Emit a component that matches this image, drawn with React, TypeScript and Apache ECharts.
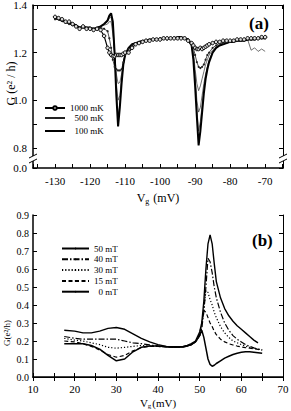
import React, { useEffect, useRef } from 'react';
import * as echarts from 'echarts';

// ---------- Panel (a): G vs Vg at several temperatures ----------
const XA = [
  -130, -129, -128, -127, -126, -125, -124, -123, -122, -121,
  -120, -119, -118, -117, -116, -115, -114.5, -114, -113.5, -113,
  -112.5, -112, -111.5, -111, -110.5, -110, -109, -108, -107, -106,
  -105, -104, -103, -102, -101, -100, -99, -98, -97, -96,
  -95, -94, -93, -92, -91, -90.5, -90, -89.5, -89, -88.5,
  -88, -87.5, -87, -86.5, -86, -85, -84, -83, -82, -81,
  -80, -79, -78, -77, -76, -75, -74, -73, -72, -71,
  -70,
];
const T1000 = [
  1.35, 1.345, 1.34, 1.33, 1.33, 1.32, 1.31, 1.3, 1.31, 1.3,
  1.3, 1.295, 1.3, 1.295, 1.27, 1.22, 1.2, 1.19, 1.185, 1.185,
  1.19, 1.19, 1.19, 1.19, 1.195, 1.2, 1.2, 1.22, 1.235, 1.24,
  1.245, 1.25, 1.25, 1.255, 1.255, 1.255, 1.26, 1.26, 1.26, 1.26,
  1.26, 1.26, 1.26, 1.25, 1.24, 1.23, 1.22, 1.215, 1.215, 1.22,
  1.215, 1.22, 1.225, 1.23, 1.235, 1.24, 1.245, 1.245, 1.25, 1.25,
  1.25, 1.25, 1.255, 1.255, 1.255, 1.26, 1.26, 1.26, 1.26, 1.265,
  1.265,
];
const T500 = [
  1.34, 1.34, 1.335, 1.325, 1.32, 1.315, 1.31, 1.3, 1.305, 1.3,
  1.3, 1.3, 1.3, 1.305, 1.3, 1.29, 1.26, 1.22, 1.17, 1.14,
  1.13, 1.125, 1.125, 1.13, 1.16, 1.19, 1.215, 1.23, 1.24, 1.245,
  1.245, 1.25, 1.25, 1.255, 1.255, 1.26, 1.26, 1.255, 1.26, 1.26,
  1.26, 1.26, 1.26, 1.255, 1.24, 1.22, 1.19, 1.16, 1.14, 1.135,
  1.14, 1.15, 1.17, 1.19, 1.2, 1.22, 1.23, 1.24, 1.24, 1.245,
  1.245, 1.25, 1.25, 1.25, 1.255, 1.255, 1.255, 1.26, 1.26, 1.26,
  1.26,
];
const TMID1 = [
  1.345, 1.34, 1.33, 1.33, 1.32, 1.315, 1.31, 1.305, 1.305, 1.3,
  1.3, 1.3, 1.3, 1.31, 1.315, 1.32, 1.33, 1.33, 1.28, 1.2,
  1.11, 1.07, 1.075, 1.11, 1.16, 1.19, 1.215, 1.23, 1.24, 1.245,
  1.25, 1.25, 1.25, 1.255, 1.255, 1.255, 1.26, 1.26, 1.26, 1.26,
  1.26, 1.26, 1.26, 1.255, 1.235, 1.2, 1.13, 1.07, 1.04, 1.06,
  1.09, 1.12, 1.15, 1.17, 1.19, 1.21, 1.225, 1.235, 1.24, 1.24,
  1.245, 1.25, 1.25, 1.25, 1.25, 1.255, 1.255, 1.26, 1.26, 1.26,
  1.26,
];
const TMID2 = [
  1.35, 1.34, 1.335, 1.33, 1.325, 1.32, 1.31, 1.305, 1.31, 1.305,
  1.3, 1.3, 1.305, 1.31, 1.32, 1.33, 1.345, 1.35, 1.3, 1.2,
  1.07, 1.0, 1.02, 1.09, 1.15, 1.19, 1.22, 1.235, 1.24, 1.245,
  1.25, 1.25, 1.255, 1.255, 1.255, 1.26, 1.26, 1.26, 1.26, 1.26,
  1.265, 1.26, 1.26, 1.255, 1.23, 1.19, 1.1, 1.0, 0.95, 0.97,
  1.02, 1.07, 1.11, 1.14, 1.17, 1.2, 1.22, 1.23, 1.235, 1.24,
  1.245, 1.245, 1.25, 1.25, 1.255, 1.255, 1.255, 1.26, 1.26, 1.26,
  1.26,
];
const TMID3 = [
  1.345, 1.34, 1.33, 1.33, 1.32, 1.32, 1.31, 1.3, 1.305, 1.3,
  1.3, 1.3, 1.305, 1.31, 1.32, 1.335, 1.35, 1.36, 1.32, 1.2,
  1.04, 0.93, 0.99, 1.08, 1.15, 1.19, 1.22, 1.235, 1.24, 1.245,
  1.25, 1.25, 1.255, 1.255, 1.255, 1.26, 1.26, 1.26, 1.26, 1.26,
  1.265, 1.265, 1.26, 1.255, 1.23, 1.18, 1.08, 0.96, 0.87, 0.91,
  0.98, 1.05, 1.1, 1.14, 1.165, 1.2, 1.22, 1.23, 1.235, 1.24,
  1.245, 1.245, 1.25, 1.25, 1.25, 1.255, 1.21, 1.22, 1.205, 1.215,
  1.205,
];
const T100 = [
  1.345, 1.34, 1.335, 1.33, 1.325, 1.32, 1.315, 1.305, 1.31, 1.305,
  1.305, 1.3, 1.305, 1.31, 1.32, 1.335, 1.355, 1.365, 1.33, 1.2,
  1.02, 0.89, 0.97, 1.07, 1.15, 1.19, 1.22, 1.235, 1.24, 1.245,
  1.25, 1.25, 1.255, 1.255, 1.255, 1.255, 1.26, 1.26, 1.26, 1.26,
  1.265, 1.265, 1.26, 1.255, 1.23, 1.17, 1.06, 0.93, 0.81, 0.87,
  0.95, 1.03, 1.09, 1.13, 1.16, 1.2, 1.22, 1.23, 1.235, 1.24,
  1.245, 1.245, 1.25, 1.25, 1.25, 1.255, 1.255, 1.255, 1.26, 1.26,
  1.26,
];
const A_LEGEND_TOP = ['1000 mK'];
const A_LEGEND_REST = ['500 mK', '100 mK'];

// ---------- Panel (b): G vs Vg at several magnetic fields ----------
const XB = [
  17.5, 20, 22, 24, 26, 28, 30, 32, 34, 36,
  38, 40, 42, 44, 46, 47, 48, 49, 50, 50.5,
  51, 51.5, 52, 52.5, 53, 53.5, 54, 55, 56, 57,
  58, 59, 60, 61, 62, 63, 64, 65,
];
const B50 = [
  0.26, 0.255, 0.245, 0.245, 0.255, 0.27, 0.275, 0.265, 0.24, 0.215,
  0.195, 0.18, 0.17, 0.168, 0.17, 0.175, 0.185, 0.2, 0.25, 0.3,
  0.42, 0.6, 0.74, 0.79, 0.74, 0.63, 0.53, 0.44, 0.38, 0.34,
  0.31, 0.285, 0.265, 0.245, 0.225, 0.205, 0.19, null,
];
const B40 = [
  0.225, 0.215, 0.21, 0.21, 0.21, 0.21, 0.21, 0.2, 0.19, 0.185,
  0.178, 0.172, 0.168, 0.166, 0.168, 0.172, 0.18, 0.195, 0.23, 0.27,
  0.36, 0.5, 0.66, 0.64, 0.58, 0.5, 0.44, 0.36, 0.3, 0.26,
  0.23, 0.21, 0.195, 0.18, 0.17, 0.162, 0.155, 0.15,
];
const B30 = [
  0.215, 0.205, 0.2, 0.19, 0.18, 0.165, 0.16, 0.165, 0.17, 0.175,
  0.172, 0.17, 0.167, 0.165, 0.167, 0.172, 0.18, 0.195, 0.23, 0.28,
  0.38, 0.48, 0.47, 0.43, 0.4, 0.36, 0.33, 0.28, 0.245, 0.22,
  0.2, 0.19, 0.18, 0.172, 0.165, 0.16, 0.155, 0.15,
];
const B15 = [
  0.2, 0.195, 0.185, 0.17, 0.15, 0.125, 0.11, 0.12, 0.145, 0.165,
  0.17, 0.17, 0.167, 0.165, 0.167, 0.172, 0.18, 0.195, 0.24, 0.3,
  0.37, 0.36, 0.33, 0.3, 0.28, 0.255, 0.235, 0.21, 0.195, 0.185,
  0.178, 0.172, 0.167, 0.163, 0.16, 0.157, 0.153, 0.15,
];
const B0 = [
  0.185, 0.185, 0.185, 0.175, 0.155, 0.12, 0.09, 0.1, 0.14, 0.165,
  0.172, 0.172, 0.168, 0.165, 0.167, 0.172, 0.18, 0.195, 0.23, 0.26,
  0.22, 0.16, 0.1, 0.07, 0.06, 0.065, 0.075, 0.09, 0.105, 0.115,
  0.125, 0.132, 0.137, 0.14, 0.14, 0.138, 0.135, 0.132,
];
const B_LEGEND = ['50 mT', '40 mT', '30 mT', '15 mT', '0 mT'];

const FONT = '"Liberation Serif", "Times New Roman", serif';

function pairs(xs: number[], ys: (number | null)[]) {
  const out: number[][] = [];
  xs.forEach((x, i) => {
    const y = ys[i];
    if (y !== null && y !== undefined) out.push([x, y]);
  });
  return out;
}

export default function App() {
  const ref = useRef<HTMLDivElement>(null);
  useEffect(() => {
    if (!ref.current) return;
    const chart = echarts.init(ref.current, undefined, { renderer: 'svg' });

    const tick = { inside: true, length: 4, lineStyle: { color: '#000', width: 1 } };
    const label = (extra: any) => ({ fontFamily: FONT, fontSize: 11, color: '#000', ...extra });
    const lineA = (w: number) => ({ lineStyle: { color: '#000', width: w } });

    const thin = (name: string, ys: number[], w = 0.7, color = '#333') => ({
      name, type: 'line', xAxisIndex: 0, yAxisIndex: 0, data: pairs(XA, ys),
      symbol: 'none', lineStyle: { color, width: w }, itemStyle: { color }, silent: true,
    });
    const bser = (name: string, ys: (number | null)[], type: any, w = 1.2) => ({
      name, type: 'line', xAxisIndex: 2, yAxisIndex: 2, data: pairs(XB, ys),
      symbol: 'none', lineStyle: { color: '#000', width: w, type }, itemStyle: { color: '#000' },
    });
    const legendText = { fontFamily: FONT, fontSize: 9, color: '#000' };

    const option: any = {
      animation: false,
      backgroundColor: '#fff',
      textStyle: { fontFamily: FONT },
      grid: [
        { left: 33, top: 5, width: 250, height: 163, outerBoundsMode: 'none', containLabel: false },
        { left: 33, top: 215, width: 250, height: 162, outerBoundsMode: 'none', containLabel: false },
      ],
      xAxis: [
        {
          gridIndex: 0, type: 'value', min: -136.3, max: -64.9, splitNumber: 14, position: 'bottom',
          axisLine: lineA(1.5), axisTick: tick, splitLine: { show: false },
          axisLabel: label({ margin: 7, formatter: (v: number) => (Math.round(v) === v && v % 10 === 0 ? String(v) : '') }),
          name: '{v|V}{g|g}{v| (mV)}', nameLocation: 'middle', nameGap: 22,
          nameTextStyle: {
            rich: {
              v: { fontFamily: FONT, fontSize: 12, color: '#000' },
              g: { fontFamily: FONT, fontSize: 8, color: '#000', padding: [7, 1, 0, 0] },
            },
          },
        },
        {
          gridIndex: 0, type: 'value', min: -136.3, max: -64.9, splitNumber: 14, position: 'top',
          axisLine: lineA(1), axisTick: tick, axisLabel: { show: false }, splitLine: { show: false },
        },
        {
          gridIndex: 1, type: 'value', min: 10, max: 70, interval: 5, position: 'bottom',
          axisLine: lineA(1.5), axisTick: tick, splitLine: { show: false },
          axisLabel: label({ margin: 6, formatter: (v: number) => (Math.round(v) % 10 === 0 ? String(v) : '') }),
          name: '{v|V}{g|g}{v|(mV)}', nameLocation: 'middle', nameGap: 19,
          nameTextStyle: {
            rich: {
              v: { fontFamily: FONT, fontSize: 11, color: '#000' },
              g: { fontFamily: FONT, fontSize: 7, color: '#000', padding: [6, 1, 0, 0] },
            },
          },
        },
        {
          gridIndex: 1, type: 'value', min: 10, max: 70, interval: 5, position: 'top',
          axisLine: lineA(1), axisTick: tick, axisLabel: { show: false }, splitLine: { show: false },
        },
      ],
      yAxis: [
        {
          gridIndex: 0, type: 'value', min: 0.715, max: 1.4, splitNumber: 7, position: 'left',
          axisLine: lineA(1.5), axisTick: tick, splitLine: { show: false },
          axisLabel: label({
            margin: 6, showMinLabel: true,
            formatter: (v: number) => (v < 0.75 ? '0.0' : Math.round(v * 10) % 2 === 0 ? v.toFixed(1) : ''),
          }),
          name: 'G (e² / h)', nameLocation: 'middle', nameGap: 16, nameRotate: 90, nameMoveOverlap: false,
          nameTextStyle: { fontFamily: FONT, fontSize: 12, color: '#000', padding: [0, 0, 0, 6] },
        },
        {
          gridIndex: 0, type: 'value', min: 0.715, max: 1.4, splitNumber: 7, position: 'right',
          axisLine: lineA(1), axisTick: tick, axisLabel: { show: false }, splitLine: { show: false },
        },
        {
          gridIndex: 1, type: 'value', min: 0, max: 0.9, interval: 0.1, position: 'left',
          axisLine: lineA(1.5), axisTick: tick, splitLine: { show: false },
          axisLabel: label({ margin: 4, fontSize: 10, formatter: (v: number) => v.toFixed(1) }),
        },
        {
          gridIndex: 1, type: 'value', min: 0, max: 0.9, interval: 0.1, position: 'right',
          axisLine: lineA(1), axisTick: tick, axisLabel: { show: false }, splitLine: { show: false },
        },
      ],
      legend: [
        {
          data: A_LEGEND_TOP, orient: 'vertical', left: 44, top: 103, padding: 0,
          itemWidth: 20, itemHeight: 4.5, textStyle: { ...legendText, lineHeight: 10 },
          selectedMode: false,
        },
        {
          data: A_LEGEND_REST, orient: 'vertical', left: 44, top: 113, padding: 0,
          itemWidth: 20, itemHeight: 2, itemGap: 3, textStyle: { ...legendText, lineHeight: 10 },
          formatter: (n: string) => '  ' + n,
          selectedMode: false,
        },
        {
          data: B_LEGEND, orient: 'vertical', left: 61, top: 244, padding: 0,
          itemWidth: 27, itemHeight: 2, itemGap: 1.8, textStyle: { ...legendText, lineHeight: 9 },
          formatter: (n: string) => (n.length < 5 ? '  ' + n : n),
          selectedMode: false,
        },
      ],
      series: [
        thin('t3', TMID1),
        thin('t4', TMID2),
        thin('t5', TMID3),
        {
          name: '500 mK', type: 'line', xAxisIndex: 0, yAxisIndex: 0, data: pairs(XA, T500),
          symbol: 'circle', symbolSize: 2.2, lineStyle: { color: '#222', width: 0.8 },
          itemStyle: { color: '#222' },
        },
        {
          name: '100 mK', type: 'line', xAxisIndex: 0, yAxisIndex: 0, data: pairs(XA, T100),
          symbol: 'none', lineStyle: { color: '#000', width: 2 }, itemStyle: { color: '#000' },
        },
        {
          name: '1000 mK', type: 'line', xAxisIndex: 0, yAxisIndex: 0, data: pairs(XA, T1000),
          symbol: 'circle', symbolSize: 3.5, lineStyle: { color: '#000', width: 1.2 },
          itemStyle: { color: '#ddd', borderColor: '#000', borderWidth: 1 },
        },
        bser('50 mT', B50, 'solid', 1.4),
        bser('40 mT', B40, [6, 2, 1.5, 2]),
        bser('30 mT', B30, [1.2, 2]),
        bser('15 mT', B15, [4, 2.5]),
        bser('0 mT', B0, 'solid', 1.5),
      ],
      graphic: [
        { type: 'text', left: 249, top: 15, style: { text: '(a)', font: `bold 17px ${FONT}`, fill: '#000' } },
        { type: 'text', left: 252, top: 232, style: { text: '(b)', font: `bold 17px ${FONT}`, fill: '#000' } },
        {
          type: 'text', x: 7, y: 333, rotation: Math.PI / 2,
          style: { text: 'G(e²/h)', font: `9px ${FONT}`, fill: '#000', align: 'center', verticalAlign: 'middle' },
        },
        // axis-break marks on panel (a)
        { type: 'rect', shape: { x: 29, y: 156, width: 8, height: 5 }, style: { fill: '#fff' }, z: 100 },
        { type: 'line', shape: { x1: 29, y1: 158, x2: 37, y2: 154 }, style: { stroke: '#000', lineWidth: 1 }, z: 101 },
        { type: 'line', shape: { x1: 29, y1: 163, x2: 37, y2: 159 }, style: { stroke: '#000', lineWidth: 1 }, z: 101 },
        { type: 'rect', shape: { x: 279, y: 156, width: 8, height: 5 }, style: { fill: '#fff' }, z: 100 },
        { type: 'line', shape: { x1: 279, y1: 158, x2: 287, y2: 154 }, style: { stroke: '#000', lineWidth: 1 }, z: 101 },
        { type: 'line', shape: { x1: 279, y1: 163, x2: 287, y2: 159 }, style: { stroke: '#000', lineWidth: 1 }, z: 101 },
      ],
    };
    chart.setOption(option);
    return () => chart.dispose();
  }, []);
  return <div ref={ref} style={{ position: 'fixed', left: 0, top: 0, width: 291, height: 411, background: '#fff' }} />;
}
